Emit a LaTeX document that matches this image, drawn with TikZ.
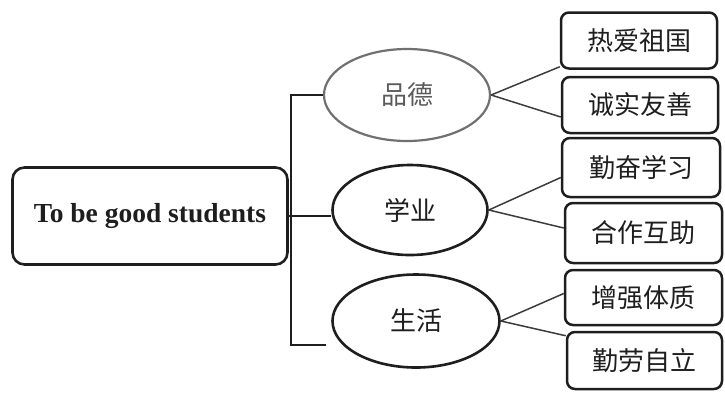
\documentclass[tikz,border=0pt]{standalone}
\usepackage{fontspec}
\setmainfont{Liberation Serif}
\newfontfamily\cjk{Noto Sans CJK SC}
\usetikzlibrary{shapes.geometric}
\definecolor{ink}{HTML}{1E1E1E}
\definecolor{faded}{HTML}{707070}
\definecolor{connc}{HTML}{3C3C3C}
\tikzset{
  mainbox/.style={draw=ink, line width=2.6pt, rounded corners=12pt, minimum width=275pt, minimum height=97pt, font=\fontsize{27.5}{30}\selectfont\bfseries, text=ink},
  oval/.style={draw=ink, ellipse, line width=2.6pt, inner sep=0pt, font=\cjk\fontsize{26}{29}\selectfont, text=ink},
  leaf/.style={draw=ink, line width=2.5pt, rounded corners=8pt, minimum width=156pt, minimum height=56pt, font=\cjk\fontsize{26}{29}\selectfont, text=ink},
  conn/.style={draw=connc, line width=1.5pt},
  bracket/.style={draw=ink, line width=1.8pt}
}
\begin{document}
\begin{tikzpicture}[x=1pt,y=-1pt]
\useasboundingbox (0,0) rectangle (725,392);
\node[mainbox] (main) at (150,216) {To be good students};
\node[oval, draw=faded, text=faded!80!black, line width=2.2pt, minimum width=166pt, minimum height=92pt] (e1) at (407,95) {品德};
\node[oval, minimum width=155pt, minimum height=90pt] (e2) at (410,210) {学业};
\node[oval, minimum width=167pt, minimum height=93pt] (e3) at (416,321) {生活};
\node[leaf] (b1) at (639,40.5) {热爱祖国};
\node[leaf] (b2) at (640,105) {诚实友善};
\node[leaf, minimum width=158pt, minimum height=59pt] (b3) at (641,167.5) {勤奋学习};
\node[leaf, minimum width=157pt, minimum height=60pt] (b4) at (643.5,233) {合作互助};
\node[leaf, minimum width=157pt, minimum height=55pt] (b5) at (643.5,297.5) {增强体质};
\node[leaf, minimum width=155pt, minimum height=57pt] (b6) at (644.5,360.5) {勤劳自立};
\coordinate (bl) at (291,345);
\coordinate (br) at (326,345);
\draw[bracket] (e1.west) -| (bl) -- (br);
\draw[bracket] (main.east) -- (main.east -| e2.west);
\draw[conn] (e1.east) -- ([yshift=3pt]b1.south west);
\draw[conn] (e1.east) -- ([yshift=-12pt]b2.west);
\draw[conn] (e2.east) -- ([yshift=-10pt]b3.west);
\draw[conn] (e2.east) -- ([yshift=5pt]b4.west);
\draw[conn] (e3.east) -- ([yshift=4pt]b5.west);
\draw[conn] (e3.east) -- ([yshift=-5pt]b6.north west);
\end{tikzpicture}
\end{document}
